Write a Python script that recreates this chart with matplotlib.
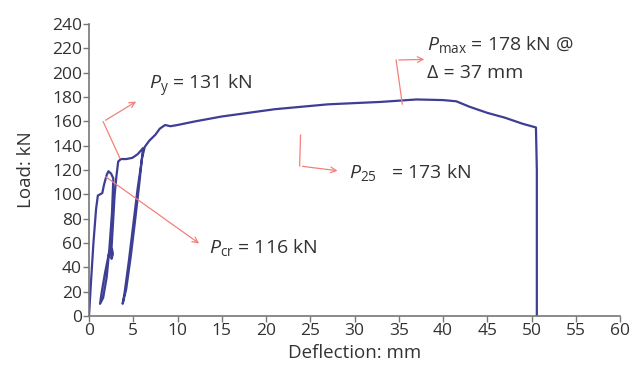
import numpy as np
import matplotlib.pyplot as plt

plt.rcParams['font.family'] = ['Open Sans', 'DejaVu Sans']
plt.rcParams['mathtext.fontset'] = 'custom'
plt.rcParams['mathtext.rm'] = 'Open Sans'
plt.rcParams['mathtext.it'] = 'Open Sans:italic'

# load-deflection curve (mm, kN)
defl = [0.0, 0.2, 0.5, 0.8, 1.0, 1.5, 1.7, 2.0, 2.2, 2.5, 2.75,
        2.6, 2.3, 2.0, 1.6, 1.25,
        1.4, 1.8, 2.1, 2.3, 2.6, 2.7, 2.55, 2.5, 2.7, 2.9, 3.1, 3.3, 3.6, 4.2, 4.9, 5.5, 6.1,
        5.7, 5.2, 4.7, 4.2, 3.8,
        4.0, 4.5, 5.0, 5.5, 6.0, 6.3, 6.8, 7.5, 8.0, 8.6, 9.2, 10.0, 12.0, 15.0, 18.0,
        21.0, 24.0, 27.0, 30.0, 33.0, 35.0, 37.0, 40.0, 41.5, 43.0, 45.0, 47.0, 49.0,
        50.0, 50.5, 50.6, 50.6, 50.6]
load = [0, 25, 60, 88, 99, 101, 108, 116, 119, 117, 113,
        85, 55, 32, 15, 10,
        18, 35, 46, 53, 55, 51, 47, 50, 75, 100, 115, 127, 129, 129, 130, 133, 138,
        110, 78, 48, 22, 10,
        18, 45, 75, 105, 130, 139, 144, 149, 154, 157, 156, 157, 160, 164, 167,
        170, 172, 174, 175, 176, 177, 178, 177.5, 176.5, 172, 167, 163, 158,
        156, 155, 120, 50, 0]

fig, ax = plt.subplots(figsize=(6.33, 3.70), dpi=100)
fig.subplots_adjust(left=0.1406, right=0.9795, bottom=0.146, top=0.935)

ax.plot(defl, load, color='#3e3e94', lw=1.6)

txt = '#333333'
arr = '#f4807a'

# annotation leaders
ax.plot([3.5, 1.6], [129.6, 159.7], color=arr, lw=0.9)
ax.annotate('', xy=(5.6, 177.5), xytext=(1.6, 159.7),
            arrowprops=dict(arrowstyle='->', color=arr, lw=0.9))
ax.annotate('', xy=(12.7, 58.3), xytext=(1.6, 115.9),
            arrowprops=dict(arrowstyle='->', color=arr, lw=0.9))
ax.plot([23.9, 23.8], [148.7, 123.3], color=arr, lw=0.9)
ax.annotate('', xy=(28.4, 119.1), xytext=(23.8, 123.3),
            arrowprops=dict(arrowstyle='->', color=arr, lw=0.9))
ax.plot([35.4, 34.7], [174.2, 210.4], color=arr, lw=0.9)
ax.annotate('', xy=(38.2, 211.0), xytext=(34.7, 210.4),
            arrowprops=dict(arrowstyle='->', color=arr, lw=0.9))

fs = 14
ax.text(6.8, 189, r'$P_{\mathrm{y}}$ = 131 kN', color=txt, fontsize=fs, va='center')
ax.text(13.6, 56, r'$P_{\mathrm{cr}}$ = 116 kN', color=txt, fontsize=fs, va='center')
ax.text(29.4, 118, r'$P_{\mathrm{25}}$   = 173 kN', color=txt, fontsize=fs, va='center')
ax.text(38.2, 223, r'$P_{\mathrm{max}}$ = 178 kN @', color=txt, fontsize=fs, va='center')
ax.text(38.2, 200, 'Δ = 37 mm', color=txt, fontsize=fs, va='center')

ax.set_xlim(0, 60)
ax.set_ylim(0, 240)
ax.set_xticks(np.arange(0, 61, 5))
ax.set_yticks(np.arange(0, 241, 20))
ax.set_xlabel('Deflection: mm', fontsize=13.5, color=txt, labelpad=4)
ax.set_ylabel('Load: kN', fontsize=13.5, color=txt, labelpad=12)
ax.tick_params(labelsize=12.5, colors='#777777', labelcolor=txt, length=4, width=1, pad=1)
for s in ['top', 'right']:
    ax.spines[s].set_visible(False)
for s in ['left', 'bottom']:
    ax.spines[s].set_color('#777777')
    ax.spines[s].set_linewidth(1.2)

plt.savefig('out.png', dpi=100)
